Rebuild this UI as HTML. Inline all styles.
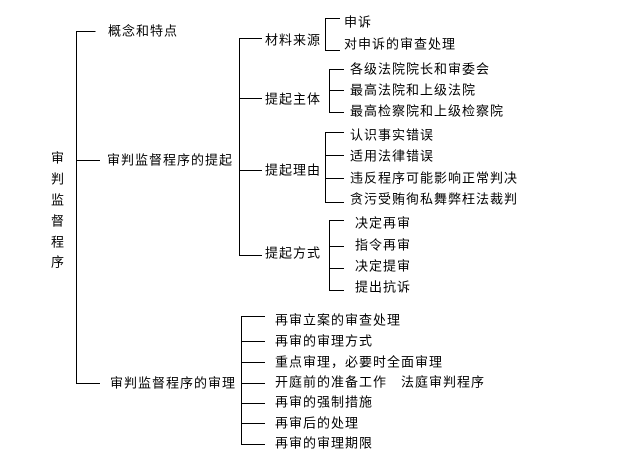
<!DOCTYPE html>
<html><head><meta charset="utf-8"><style>
html,body{margin:0;padding:0;background:#fff;}
svg{display:block;}
text{font-family:"Liberation Sans","Noto Sans CJK SC",sans-serif;font-size:13px;letter-spacing:1px;fill:#000;dominant-baseline:central;}
</style></head><body>
<svg width="618" height="468" viewBox="0 0 618 468" xmlns="http://www.w3.org/2000/svg">
<g stroke="#000" stroke-width="1" fill="none" shape-rendering="crispEdges">
<path d="M95.5 31.5H76.5V383.5H100 M76.5 160.5H100"/>
<path d="M262 38.5H239.5V255.5H262 M239.5 98.5H262 M239.5 170.5H262"/>
<path d="M340 18.5H325.5V50.5H340"/>
<path d="M344 69.5H329.5V112.5H344 M329.5 90.5H344"/>
<path d="M344 132.5H325.5V202.5H344 M325.5 155.5H344 M325.5 178.5H344"/>
<path d="M344 220.5H329.5V290.5H344 M329.5 246.5H344 M329.5 268.5H344"/>
<path d="M265 316.5H241.5V444.5H265 M241.5 341.5H265 M241.5 362.5H265 M241.5 383.5H265 M241.5 403.5H265 M241.5 423.5H265"/>
</g>
<text x="108" y="31">概念和特点</text>
<text x="107" y="160">审判监督程序的提起</text>
<text x="110" y="383">审判监督程序的审理</text>
<g text-anchor="middle" style="letter-spacing:0">
<text x="58" y="158">审</text><text x="58" y="179">判</text><text x="58" y="200">监</text><text x="58" y="221">督</text><text x="58" y="242">程</text><text x="58" y="262">序</text>
</g>
<text x="265" y="40">材料来源</text>
<text x="265" y="99">提起主体</text>
<text x="265" y="170">提起理由</text>
<text x="265" y="253">提起方式</text>
<text x="344" y="22">申诉</text>
<text x="344" y="44">对申诉的审查处理</text>
<text x="350" y="69">各级法院院长和审委会</text>
<text x="350" y="90">最高法院和上级法院</text>
<text x="350" y="111">最高检察院和上级检察院</text>
<text x="350" y="135">认识事实错误</text>
<text x="350" y="156">适用法律错误</text>
<text x="350" y="178">违反程序可能影响正常判决</text>
<text x="350" y="199">贪污受贿徇私舞弊枉法裁判</text>
<text x="355" y="223">决定再审</text>
<text x="355" y="245">指令再审</text>
<text x="355" y="266">决定提审</text>
<text x="355" y="287">提出抗诉</text>
<text x="275" y="320">再审立案的审查处理</text>
<text x="275" y="341">再审的审理方式</text>
<text x="275" y="362">重点审理，必要时全面审理</text>
<text x="275" y="382">开庭前的准备工作　法庭审判程序</text>
<text x="275" y="402">再审的强制措施</text>
<text x="275" y="423">再审后的处理</text>
<text x="275" y="443">再审的审理期限</text>
</svg>
</body></html>
